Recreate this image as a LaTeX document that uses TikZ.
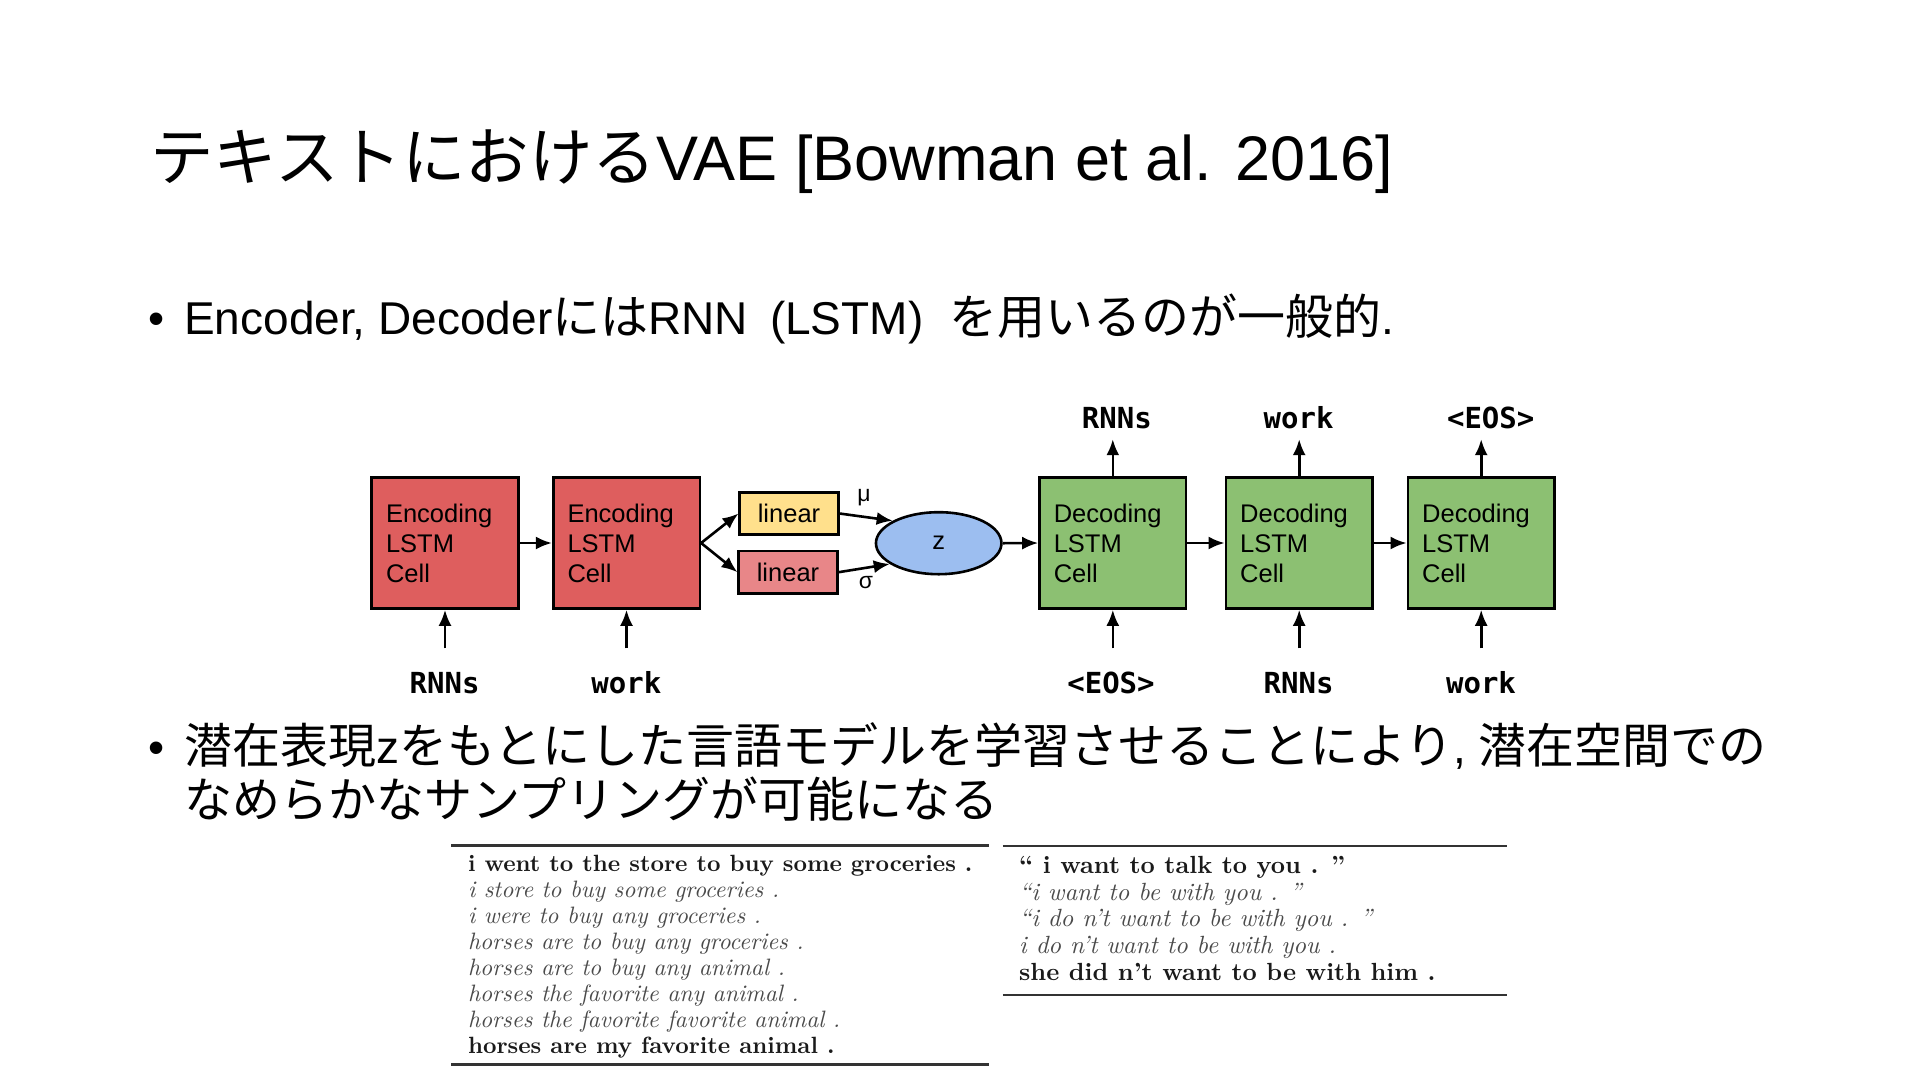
\documentclass[tikz,border=0pt]{standalone}
\usepackage{fontspec}
\setmainfont{Liberation Sans}
\newfontfamily\jp{Noto Sans CJK JP}
\newfontfamily\monob{DejaVu Sans Mono}
\newfontfamily\lmbx{lmroman10-bold}[Extension=.otf]
\newfontfamily\lmit{lmroman10-italic}[Extension=.otf]
\usetikzlibrary{arrows.meta,shapes.geometric}
\definecolor{encred}{HTML}{DE5E5E}
\definecolor{decgreen}{HTML}{8CC072}
\definecolor{linyel}{HTML}{FFE08C}
\definecolor{linpink}{HTML}{E88688}
\definecolor{zblue}{HTML}{9CBEF0}
\definecolor{itgray}{HTML}{4A4A4A}
\definecolor{bdblack}{HTML}{1A1A1A}
\newcommand\setfs[1]{\fontsize{#1}{#1}\selectfont}
\newcommand\JT[1]{{\jp\setfs{63.5}#1}}
\newcommand\JB[1]{{\jp\setfs{48}#1}}
\begin{document}
\begin{tikzpicture}[x=1pt,y=-1pt,
  txt/.style={anchor=base west, inner sep=0pt},
  cell/.style={draw=black, line width=2.6pt, minimum width=146.6pt, minimum height=131pt,
    text width=118pt, inner xsep=14.3pt, align=left, font=\fontsize{25.5}{30}\selectfont},
  enc/.style={cell, fill=encred},
  dec/.style={cell, fill=decgreen},
  lin/.style={draw=black, line width=2.6pt, minimum width=98.5pt, minimum height=42.4pt,
    inner sep=0pt, font=\setfs{25.5}},
  arr/.style={line width=2.6pt, -{Latex[length=16pt,width=13pt]}},
  lab/.style={anchor=base, font=\monob\bfseries\setfs{29}, inner sep=0pt,
    text height=21pt, text depth=0pt},
  rule/.style={line width=2.5pt, draw=black!80},
  tb/.style={txt, text=bdblack, font=\lmbx\setfs{23.5}},
  ti/.style={txt, text=itgray, font=\lmit\setfs{23.7}},
  tbr/.style={txt, text=bdblack, font=\lmbx\setfs{24.8}},
  tir/.style={txt, text=itgray, font=\lmit\setfs{24.9}}
]
\fill[white] (0,0) rectangle (1920,1080);
\useasboundingbox (0,0) rectangle (1920,1080);

% title
\node[txt, font=\setfs{63}] (title) at (150,180) {\JT{テキストにおける}VAE [Bowman et al. 2016]};

% bullet 1
\node[txt, font=\setfs{46}] (dot1) at (148,334) {•};
\node[txt, font=\setfs{46}] (bul1) at (184,334) {Encoder, Decoder\JB{には}RNN\hspace{22pt}(LSTM)\hspace{26pt}\JB{を用いるのが一般的}.};

% diagram
\node[enc] (enc1) at (445,543) {Encoding\\LSTM\\Cell};
\node[enc] (enc2) at (626.5,543) {Encoding\\LSTM\\Cell};
\node[lin, fill=linyel] (lin1) at (789,513.5) {linear};
\node[lin, fill=linpink] (lin2) at (788,572.2) {linear};
\node[ellipse, draw=black, line width=2.6pt, fill=zblue, minimum width=125.5pt,
  minimum height=62pt, inner sep=0pt, font=\setfs{25.5}] (z) at (938.7,543.2) {z};
\node[dec] (dec1) at (1112.8,543) {Decoding\\LSTM\\Cell};
\node[dec] (dec2) at (1299.2,543) {Decoding\\LSTM\\Cell};
\node[dec] (dec3) at (1481.2,543) {Decoding\\LSTM\\Cell};

\node[font=\setfs{23}, inner sep=0pt] (mu) at (864,498) {μ};
\node[font=\setfs{23}, inner sep=0pt] (sg) at (866,583) {σ};

% labels
\node[lab] (t1) at (1116.8,428) {RNNs};
\node[lab] (t2) at (1298.6,428) {work};
\node[lab] (t3) at (1490.7,428) {<EOS>};
\node[lab] (b1) at (444.6,693.5) {RNNs};
\node[lab] (b2) at (626.3,693.5) {work};
\node[lab] (b3) at (1111,693.5) {<EOS>};
\node[lab] (b4) at (1298.6,693.5) {RNNs};
\node[lab] (b5) at (1481,693.5) {work};

% connectors
\draw[arr] (enc1.east) -- (enc2.west);
\draw[arr] (enc2.east) -- (lin1.west);
\draw[arr] (enc2.east) -- (lin2.west);
\draw[arr] (lin1.east) -- (z.154);
\draw[arr] (lin2.east) -- (z.203);
\draw[arr] (z.east) -- (dec1.west);
\draw[arr] (dec1.east) -- (dec2.west);
\draw[arr] (dec2.east) -- (dec3.west);
\foreach \c/\t in {dec1/t1, dec2/t2, dec3/t3}
  \draw[arr, shorten >=11pt] (\c.north) -- (\c.north |- \t.south);
\foreach \c/\b in {enc1/b1, enc2/b2, dec1/b3, dec2/b4, dec3/b5}
  \draw[arr, shorten <=24pt] (\c.south |- \b.north) -- (\c.south);

% bullet 2
\node[txt, font=\setfs{46}] (dot2) at (148,763) {•};
\node[txt, font=\setfs{46}] (bul2a) at (184,763) {\JB{潜在表現}z\JB{をもとにした言語モデルを学習させることにより}, \JB{潜在空間での}};
\node[txt, font=\setfs{46}] (bul2b) at (184,817) {\JB{なめらかなサンプリングが可能になる}};

% left table
\draw[rule] (451,845.7) -- (988.7,845.7);
\draw[rule] (451,1064.3) -- (988.7,1064.3);
\node[tb] (l1) at (467.8,871.7) {i went to the store to buy some groceries .};
\node[ti] (l2) at (467.8,897.6) {i store to buy some groceries .};
\node[ti] (l3) at (467.8,923.5) {i were to buy any groceries .};
\node[ti] (l4) at (467.8,949.4) {horses are to buy any groceries .};
\node[ti] (l5) at (467.8,975.3) {horses are to buy any animal .};
\node[ti] (l6) at (467.8,1001.2) {horses the favorite any animal .};
\node[ti] (l7) at (467.8,1027.1) {horses the favorite favorite animal .};
\node[tb] (l8) at (467.8,1053) {horses are my favorite animal .};

% right table
\draw[rule] (1002.8,846) -- (1507,846);
\draw[rule] (1002.8,995) -- (1507,995);
\node[tbr] (r1) at (1019,873.3) {“ i want to talk to you . ”};
\node[tir] (r2) at (1019,900) {“i want to be with you . ”};
\node[tir] (r3) at (1019,926.7) {“i do n’t want to be with you . ”};
\node[tir] (r4) at (1019,953.4) {i do n’t want to be with you .};
\node[tbr] (r5) at (1019,980.1) {she did n’t want to be with him .};
\end{tikzpicture}
\end{document}
